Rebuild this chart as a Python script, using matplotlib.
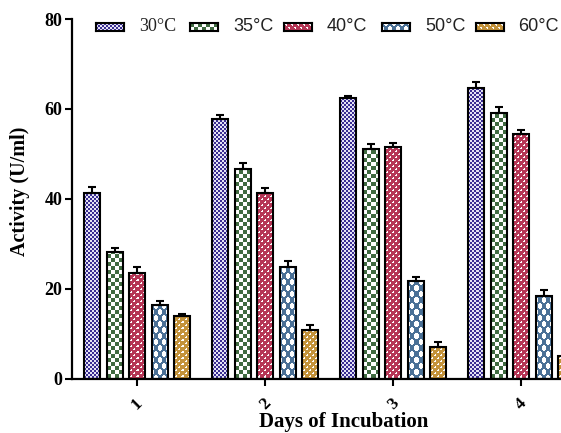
import numpy as np
import matplotlib
matplotlib.use("Agg")
import matplotlib.pyplot as plt

# ---- data ----
days = [1, 2, 3, 4]
day_labels = ["1", "2", "3", "4"]
temps = ["30°C", "35°C", "40°C", "50°C", "60°C"]
act_30 = [41.3, 57.8, 62.4, 64.6]
act_35 = [28.1, 46.7, 51.1, 59.0]
act_40 = [23.5, 41.3, 51.6, 54.4]
act_50 = [16.3, 24.8, 21.6, 18.4]
act_60 = [13.8, 10.8, 7.0, 5.0]
err_30 = [1.4, 0.9, 0.4, 1.3]
err_35 = [0.9, 1.3, 1.1, 1.5]
err_40 = [1.4, 1.0, 0.8, 0.9]
err_50 = [1.0, 1.3, 1.0, 1.4]
err_60 = [0.6, 1.1, 1.2, 1.0]

series = [act_30, act_35, act_40, act_50, act_60]
errors = [err_30, err_35, err_40, err_50, err_60]

# ---- textures ----
W = np.array([1.0, 1.0, 1.0])

def rgb(h):
    h = h.lstrip('#')
    return np.array([int(h[i:i + 2], 16) / 255 for i in (0, 2, 4)])

def tile_checker(col, cell, bg=W):
    t = np.zeros((2 * cell, 2 * cell, 3))
    for r in range(2 * cell):
        for c in range(2 * cell):
            t[r, c] = col if ((r // cell + c // cell) % 2 == 0) else bg
    return t

def tile_marks(col):
    t = np.tile(col, (6, 6, 1)).astype(float)
    for (r, c) in [(1, 1), (1, 2), (2, 2), (4, 4), (4, 5), (5, 5)]:
        t[r, c] = W
    return t

def tile_cross(col, pw=8, ph=12, thick=1.2):
    t = np.ones((ph, pw, 3))
    for r in range(ph):
        for c in range(pw):
            xc = c + 0.5
            yr = r + 0.5
            p1 = (pw / ph) * yr
            p2 = -(pw / ph) * yr
            d1 = min((xc - p1) % pw, (p1 - xc) % pw)
            d2 = min((xc - p2) % pw, (p2 - xc) % pw)
            if min(d1, d2) < thick:
                t[r, c] = col
    return t

tiles = [
    tile_checker(rgb('#3a2d92'), 2, rgb('#e4e2f4')),
    tile_checker(rgb('#3f6a40'), 4),
    tile_marks(rgb('#b63656')),
    tile_cross(rgb('#4a7096')),
    tile_marks(rgb('#c4933a')),
]

def texture(tile, h, w):
    th, tw = tile.shape[:2]
    reps = (h // th + 2, w // tw + 2, 1)
    return np.tile(tile, reps)[:h, :w]

# ---- figure ----
fig = plt.figure(figsize=(5.61, 4.33), dpi=100)
ax_left, ax_bottom = 72 / 561, 54.5 / 433
ax_w, ax_h = 514.6 / 561, 359.5 / 433
ax = fig.add_axes([ax_left, ax_bottom, ax_w, ax_h])
ax.set_xlim(0.49, 4.51)
ax.set_ylim(0, 80)

bar_w = 0.125
step = 0.176
x = np.array(days, dtype=float)
inv = ax.transData.inverted()
for i, (vals, errs, tile) in enumerate(zip(series, errors, tiles)):
    pos = x + (i - 2) * step
    bars = ax.bar(pos, vals, width=bar_w, facecolor='none', edgecolor='black',
                  linewidth=1.5, zorder=3)
    for b in bars:
        p0 = ax.transData.transform((b.get_x(), 0))
        p1 = ax.transData.transform((b.get_x() + b.get_width(), b.get_height()))
        q0 = np.round(p0)
        q1 = np.round(p1)
        wpx = max(1, int(q1[0] - q0[0]))
        hpx = max(1, int(q1[1] - q0[1]))
        d0 = inv.transform(q0)
        d1 = inv.transform(q1)
        img = texture(tile, hpx, wpx)
        ax.imshow(img, extent=[d0[0], d1[0], d0[1], d1[1]], origin='lower',
                  interpolation='nearest', aspect='auto', zorder=2)
    ax.errorbar(pos, vals, yerr=[np.zeros(len(errs)), errs], fmt='none',
                ecolor='black', elinewidth=1.5, capsize=3, capthick=1.5, zorder=4)

ax.set_xlim(0.49, 4.51)
ax.set_ylim(0, 80)

for s in ['top', 'right']:
    ax.spines[s].set_visible(False)
for s in ['left', 'bottom']:
    ax.spines[s].set_linewidth(1.6)

ax.set_yticks([0, 20, 40, 60, 80])
ax.set_xticks(days)
ax.set_xticklabels(day_labels, rotation=45)
ax.tick_params(axis='both', direction='out', length=5, width=1.5, colors='black')
ax.tick_params(axis='x', pad=7)
ax.tick_params(axis='y', pad=2)
for lab in ax.get_yticklabels():
    lab.set_fontfamily('Liberation Serif')
    lab.set_fontweight('bold')
    lab.set_fontsize(13)
for lab in ax.get_xticklabels():
    lab.set_fontfamily('Liberation Serif')
    lab.set_fontweight('bold')
    lab.set_fontsize(12.5)

ax.set_ylabel('Activity (U/ml)', fontfamily='Liberation Serif', fontweight='bold',
              fontsize=14.5)
ax.yaxis.set_label_coords(-0.082, 0.52)
ax.set_xlabel('Days of Incubation', fontfamily='Liberation Serif', fontweight='bold',
              fontsize=15)
ax.xaxis.set_label_coords(0.527, -0.094)

# ---- legend (manual swatches) ----
sw_x = [96, 190, 284, 382, 476]
tx_x = [139, 233, 327, 425, 518]
fams = ['Liberation Serif', 'Liberation Sans', 'Liberation Sans', 'Liberation Sans',
        'Liberation Sans']
for sx, tx, tile, name, fam in zip(sw_x, tx_x, tiles, temps, fams):
    lax = fig.add_axes([sx / 561, (433 - 31) / 433, 28 / 561, 8 / 433])
    lax.imshow(texture(tile, 8, 28), interpolation='nearest', aspect='auto')
    lax.set_xticks([])
    lax.set_yticks([])
    for s in lax.spines.values():
        s.set_linewidth(1.5)
    fig.text(tx / 561, 1 - 26.5 / 433, name, fontfamily=fam, fontsize=13,
             va='center', ha='left', color='#222222')

fig.savefig('out.png', dpi=100)
